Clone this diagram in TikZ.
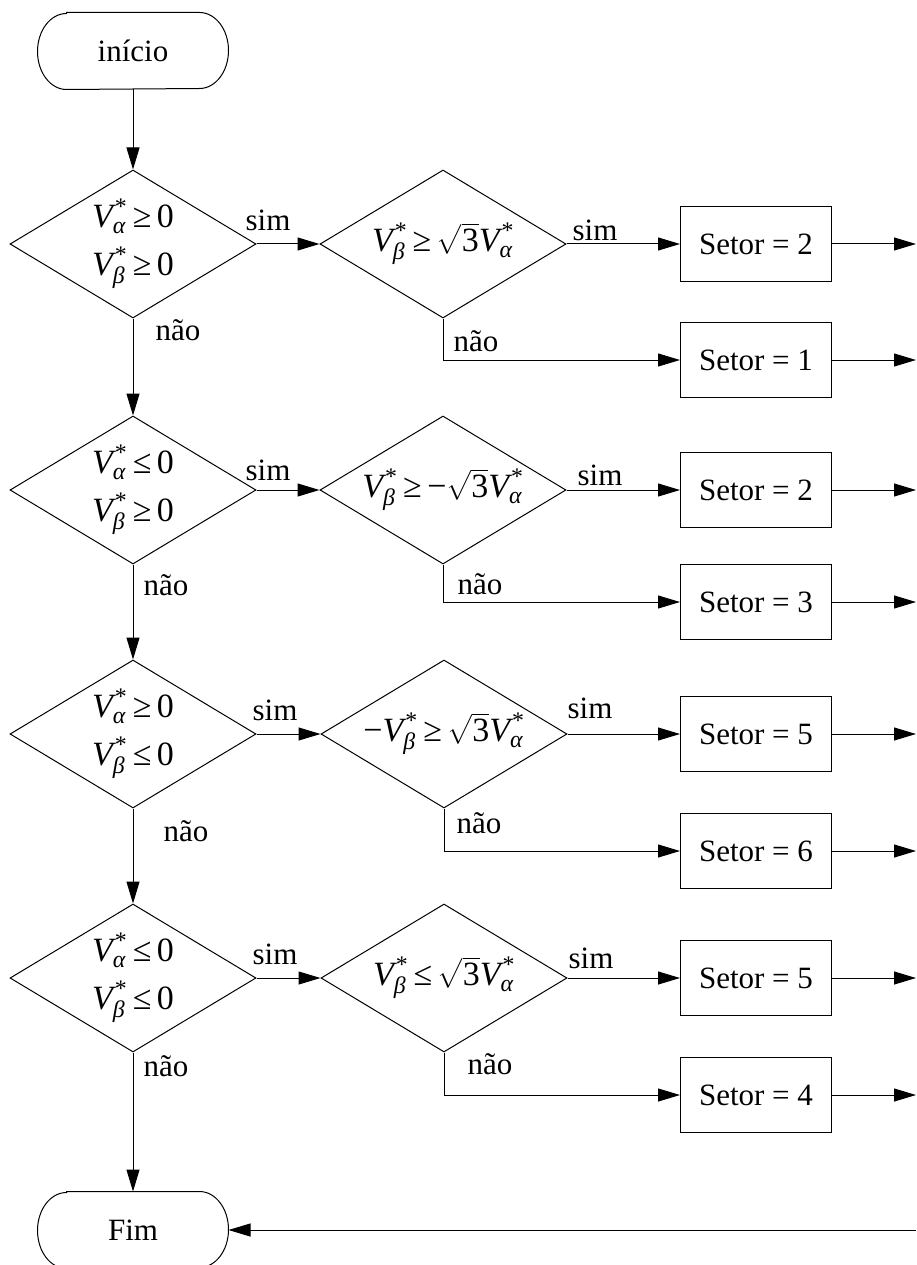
\documentclass[tikz,border=0pt]{standalone}
\usepackage{amsmath}
\usepackage{fontspec}
\setmainfont{Liberation Serif}
\usetikzlibrary{shapes.geometric,arrows.meta}
\newcommand{\myV}[1]{\text{\itshape V}^{\kern2pt\text{*}}_{\text{\itshape #1}}}
\newcommand{\mygeq}{\mskip4mu\text{≥}\mskip4mu}
\newcommand{\myleq}{\mskip4mu\text{≤}\mskip4mu}
\newcommand{\myneg}{\text{−}}
\newcommand{\zero}{\text{0}}
\newcommand{\rtt}{\sqrt{\text{3}}}
\begin{document}
\begin{tikzpicture}[x=1pt,y=-1pt,line width=1pt,
  font=\fontsize{34}{48}\selectfont,
  dec/.style={draw, shape=diamond, aspect=1.67, inner sep=0pt, minimum width=246pt, minimum height=148pt, align=center},
  proc/.style={draw, rectangle, minimum width=151pt, minimum height=75pt, inner sep=0pt, font=\fontsize{31}{40}\selectfont},
  term/.style={minimum width=190pt, minimum height=76pt, inner sep=0pt, font=\fontsize{31}{40}\selectfont},
  lbl/.style={inner sep=0pt, font=\fontsize{31}{40}\selectfont},
  flow/.style={-{Triangle[length=22pt,width=13pt]}}]
\useasboundingbox (0,0) rectangle (916,1265);
\clip (0,0) rectangle (916,1265);

% terminals
\node[term] (ini) at (133,51) {início};
\node[term] (fim) at (133,1230) {Fim};
\foreach \t in {ini,fim}{
  \draw ([xshift=29pt]\t.north west) -- ([xshift=-29pt]\t.north east)
    arc[start angle=90,end angle=-90,x radius=29pt,y radius=38pt]
    -- ([xshift=29pt]\t.south west)
    arc[start angle=270,end angle=90,x radius=29pt,y radius=38pt] -- cycle;
}

% decisions
\node[dec] (d1) at (133,244) {$\myV{α}\mygeq\zero$\\$\myV{β}\mygeq\zero$};
\node[dec] (d2) at (443,244) {$\myV{β}\mygeq\rtt\myV{α}$};
\node[dec] (d3) at (133,490) {$\myV{α}\myleq\zero$\\$\myV{β}\mygeq\zero$};
\node[dec] (d4) at (443,490) {$\myV{β}\mygeq\myneg\rtt\myV{α}$};
\node[dec] (d5) at (133,734) {$\myV{α}\mygeq\zero$\\$\myV{β}\myleq\zero$};
\node[dec] (d6) at (444,734) {$\myneg\myV{β}\mygeq\rtt\myV{α}$};
\node[dec] (d7) at (133,978) {$\myV{α}\myleq\zero$\\$\myV{β}\myleq\zero$};
\node[dec] (d8) at (444,978) {$\myV{β}\myleq\rtt\myV{α}$};

% processes
\node[proc] (b1) at (756,244) {Setor = 2};
\node[proc] (b2) at (756,360) {Setor = 1};
\node[proc] (b3) at (756,490) {Setor = 2};
\node[proc] (b4) at (756,602) {Setor = 3};
\node[proc] (b5) at (756,734) {Setor = 5};
\node[proc] (b6) at (756,851) {Setor = 6};
\node[proc] (b7) at (756,978) {Setor = 5};
\node[proc] (b8) at (756,1095) {Setor = 4};

% right-edge coordinates
\coordinate (r1) at (916,244);
\coordinate (r2) at (916,360);
\coordinate (r3) at (916,490);
\coordinate (r4) at (916,602);
\coordinate (r5) at (916,734);
\coordinate (r6) at (916,851);
\coordinate (r7) at (916,978);
\coordinate (r8) at (916,1095);
\coordinate (rf) at (916,1230);

% main column
\draw[flow] (ini.south) -- (d1.north);
\draw[flow] (d1.south) -- (d3.north);
\draw[flow] (d3.south) -- (d5.north);
\draw[flow] (d5.south) -- (d7.north);
\draw[flow] (d7.south) -- (fim.north);

% sim branches
\draw[flow] (d1.east) -- (d2.west);
\draw[flow] (d3.east) -- (d4.west);
\draw[flow] (d5.east) -- (d6.west);
\draw[flow] (d7.east) -- (d8.west);
\draw[flow] (d2.east) -- (b1.west);
\draw[flow] (d4.east) -- (b3.west);
\draw[flow] (d6.east) -- (b5.west);
\draw[flow] (d8.east) -- (b7.west);

% nao branches
\draw[flow] (d2.south) |- (b2.west);
\draw[flow] (d4.south) |- (b4.west);
\draw[flow] (d6.south) |- (b6.west);
\draw[flow] (d8.south) |- (b8.west);

% outputs
\foreach \i in {1,...,8}{\draw[flow] (b\i.east) -- (r\i);}
\draw[flow] (rf) -- (fim.east);

% labels
\node[lbl] (s1) at (268,220) {sim};
\node[lbl] (s2) at (268,470) {sim};
\node[lbl] (s3) at (275,710) {sim};
\node[lbl] (s4) at (275,954) {sim};
\node[lbl] (s5) at (595,230) {sim};
\node[lbl] (s6) at (600,475) {sim};
\node[lbl] (s7) at (590,708) {sim};
\node[lbl] (s8) at (591,958) {sim};
\node[lbl] (n1) at (178,330) {não};
\node[lbl] (n2) at (166,585) {não};
\node[lbl] (n3) at (186,831) {não};
\node[lbl] (n4) at (166,1066) {não};
\node[lbl] (n5) at (476,341) {não};
\node[lbl] (n6) at (480,584) {não};
\node[lbl] (n7) at (479,823) {não};
\node[lbl] (n8) at (490,1064) {não};
\end{tikzpicture}
\end{document}
